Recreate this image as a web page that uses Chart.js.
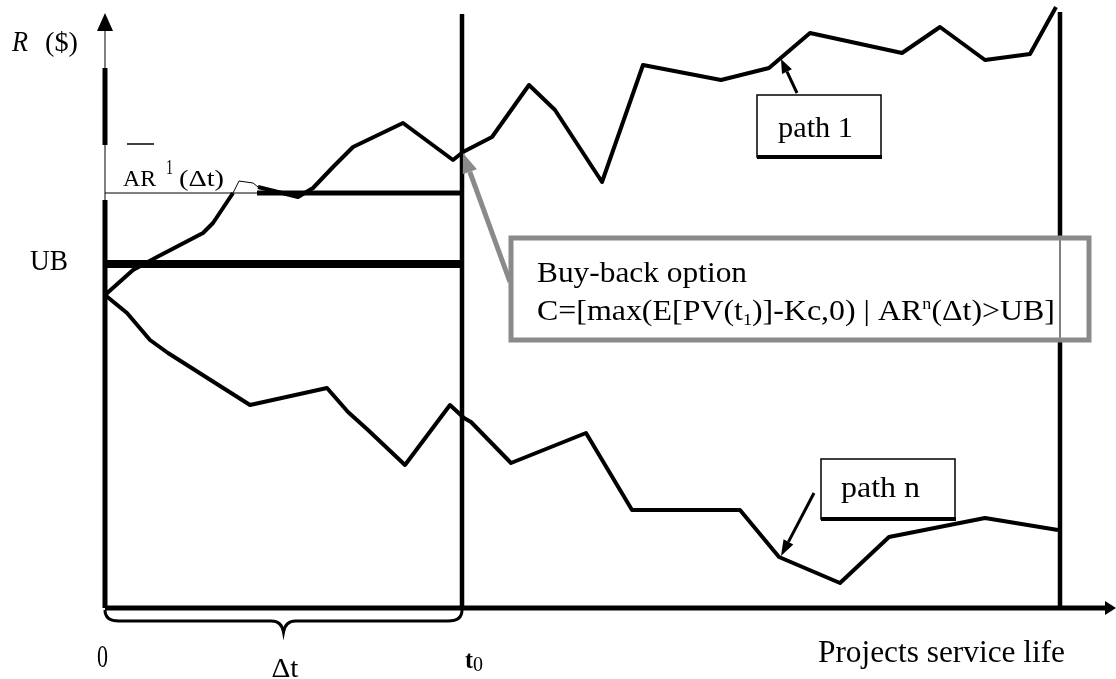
<!DOCTYPE html>
<html lang="en">
<head>
<meta charset="UTF-8" />
<title>Buy-back option</title>
<script src="https://cdn.jsdelivr.net/npm/chart.js"></script>
<style>
  * { margin: 0; padding: 0; box-sizing: border-box; }
  body { background: #ffffff; width: 1116px; height: 679px; overflow: hidden; }
  #wrap { width: 1116px; height: 679px; }
</style>
</head>
<body>
<div id="wrap"><canvas id="diagram" width="1116" height="679"></canvas></div>
<script>
  // diagram units: x = time from 0, y = R ($) above the time axis
  const T0 = 357;
  const T_END = 955;
  const UB = 344;
  const AR1 = 415;
  const AR1_THICK_FROM = 152;

  const path1X = [0, 28, 52, 98, 108, 128, 134, 148, 153, 193, 208, 228, 248, 298, 348, 358, 387, 424, 450, 497, 538, 616, 664, 705, 797, 835, 880, 925, 951];
  const path1Y = [313, 338, 351, 375, 385, 415, 427, 425, 421, 411, 420, 441, 461, 485, 448, 456, 471, 523, 498, 426, 543, 528, 540, 575, 555, 581, 548, 554, 601];

  const pathNX = [0, 22, 45, 63, 145, 222, 243, 263, 300, 345, 359, 366, 406, 481, 527, 635, 674, 735, 784, 880, 953];
  const pathNY = [313, 295, 268, 255, 203, 220, 196, 178, 143, 203, 190, 186, 145, 175, 98, 98, 51, 25, 71, 90, 78];

  // R axis: thick / thin / thick / thin pieces up to the arrow
  const rAxisStops = [0, 408, 463, 540, 580];
  const rAxisWidths = [5, 1, 5, 1];
  const R_TOP = 595;
  const TIME_END = 1011;

  const toPts = (xs, ys) => xs.map((x, i) => ({ x: x, y: ys[i] }));

  const line = (data, width, extra) =>
    Object.assign(
      {
        data: data,
        showLine: true,
        borderColor: "#000",
        borderWidth: width,
        pointRadius: 0,
        tension: 0,
        borderJoinStyle: "round",
      },
      extra || {}
    );

  function fitText(ctx, str, x, y, font, w) {
    ctx.save();
    ctx.font = font;
    const k = w ? w / ctx.measureText(str).width : 1;
    ctx.translate(x, y);
    ctx.scale(k, 1);
    ctx.fillText(str, 0, 0);
    ctx.restore();
  }

  function richText(ctx, pieces, x, y, w) {
    let total = 0;
    pieces.forEach((p) => {
      ctx.font = p[2];
      total += ctx.measureText(p[0]).width;
    });
    const k = w / total;
    ctx.save();
    ctx.translate(x, y);
    ctx.scale(k, 1);
    let cx = 0;
    pieces.forEach((p) => {
      ctx.font = p[2];
      ctx.fillText(p[0], cx, p[1]);
      cx += ctx.measureText(p[0]).width;
    });
    ctx.restore();
  }

  function arrow(ctx, x1, y1, x2, y2, color, lw, hl, hw) {
    const a = Math.atan2(y2 - y1, x2 - x1);
    const bx = x2 - hl * Math.cos(a);
    const by = y2 - hl * Math.sin(a);
    ctx.strokeStyle = color;
    ctx.fillStyle = color;
    ctx.lineWidth = lw;
    ctx.beginPath();
    ctx.moveTo(x1, y1);
    ctx.lineTo(bx, by);
    ctx.stroke();
    ctx.beginPath();
    ctx.moveTo(x2, y2);
    ctx.lineTo(bx + (hw / 2) * Math.sin(a), by - (hw / 2) * Math.cos(a));
    ctx.lineTo(bx - (hw / 2) * Math.sin(a), by + (hw / 2) * Math.cos(a));
    ctx.closePath();
    ctx.fill();
  }

  const notes = {
    id: "notes",
    afterDatasetsDraw(chart) {
      const ctx = chart.ctx;
      const X = (v) => chart.scales.x.getPixelForValue(v);
      const Y = (v) => chart.scales.y.getPixelForValue(v);
      const serif = (s) => s + "px 'Liberation Serif', 'DejaVu Serif', serif";
      ctx.save();
      ctx.fillStyle = "#000";
      ctx.textBaseline = "alphabetic";

      // arrow heads of the two axes
      ctx.beginPath();
      ctx.moveTo(X(0), Y(R_TOP));
      ctx.lineTo(X(0) - 8, Y(R_TOP) + 18);
      ctx.lineTo(X(0) + 8, Y(R_TOP) + 18);
      ctx.closePath();
      ctx.fill();
      ctx.beginPath();
      ctx.moveTo(X(TIME_END), Y(0));
      ctx.lineTo(X(TIME_END) - 11, Y(0) - 7);
      ctx.lineTo(X(TIME_END) - 11, Y(0) + 7);
      ctx.closePath();
      ctx.fill();

      // brace under [0, t0]
      const yb = Y(0) + 2;
      const x0 = X(0), x1 = X(T0), xm = X(T0 / 2);
      ctx.strokeStyle = "#000";
      ctx.lineWidth = 3;
      ctx.beginPath();
      ctx.moveTo(x0, yb);
      ctx.quadraticCurveTo(x0, yb + 11, x0 + 14, yb + 11);
      ctx.lineTo(xm - 12, yb + 11);
      ctx.quadraticCurveTo(xm - 2, yb + 11, xm, yb + 22);
      ctx.quadraticCurveTo(xm + 2, yb + 11, xm + 12, yb + 11);
      ctx.lineTo(x1 - 14, yb + 11);
      ctx.quadraticCurveTo(x1, yb + 11, x1, yb);
      ctx.stroke();

      // axis texts
      fitText(ctx, "R", X(-93), Y(557), "italic " + serif(30), 16);
      fitText(ctx, "($)", X(-60), Y(557), serif(28), 33);
      fitText(ctx, "UB", X(-75), Y(338), serif(30), 38);
      fitText(ctx, "0", X(0) - 8, Y(-59), serif(31), 11);
      fitText(ctx, "\u0394t", xm - 12, Y(-69), serif(28), 27);
      fitText(ctx, "t", X(T0) + 3, Y(-60), "bold " + serif(26), 8);
      fitText(ctx, "0", X(T0) + 11, Y(-63), serif(20), 10);
      fitText(ctx, "Projects service life", X(713), Y(-54), serif(31), 247);

      // AR label with overline
      fitText(ctx, "AR", X(18), Y(422), serif(24), 33);
      fitText(ctx, "1", X(61), Y(434), serif(20), 7);
      fitText(ctx, "(\u0394t)", X(74), Y(422), serif(24), 45);
      ctx.lineWidth = 1.5;
      ctx.beginPath();
      ctx.moveTo(X(22), Y(464));
      ctx.lineTo(X(49), Y(464));
      ctx.stroke();

      // path 1 box and arrow
      arrow(ctx, X(692), Y(515), X(676), Y(549), "#000", 3, 14, 11);
      ctx.fillStyle = "#fff";
      ctx.fillRect(X(652), Y(513), X(776) - X(652), Y(451) - Y(513));
      ctx.strokeStyle = "#000";
      ctx.lineWidth = 1.5;
      ctx.strokeRect(X(652), Y(513), X(776) - X(652), Y(451) - Y(513));
      ctx.fillStyle = "#000";
      ctx.fillRect(X(652), Y(451) - 2, X(776) - X(652) + 1, 4);
      fitText(ctx, "path 1", X(673), Y(471), serif(30), 75);

      // path n box and arrow
      arrow(ctx, X(709), Y(115), X(676), Y(52), "#000", 3, 16, 11);
      ctx.fillStyle = "#fff";
      ctx.fillRect(X(716), Y(149), X(850) - X(716), Y(89) - Y(149));
      ctx.strokeStyle = "#000";
      ctx.lineWidth = 1.5;
      ctx.strokeRect(X(716), Y(149), X(850) - X(716), Y(89) - Y(149));
      ctx.fillStyle = "#000";
      ctx.fillRect(X(716), Y(89) - 2, X(850) - X(716) + 1, 4);
      fitText(ctx, "path n", X(736), Y(111), serif(30), 79);

      // buy-back box with grey pointer to the t0 point of path 1
      arrow(ctx, X(405), Y(326), X(T0 + 1), Y(455), "#8a8a8a", 5, 20, 15);
      const bl = X(406), bt = Y(370), bw = X(984) - X(406), bh = Y(268) - Y(370);
      ctx.fillStyle = "#fff";
      ctx.fillRect(bl, bt, bw, bh);
      ctx.strokeStyle = "#000";
      ctx.lineWidth = 1;
      ctx.beginPath();
      ctx.moveTo(X(T_END), bt);
      ctx.lineTo(X(T_END), bt + bh);
      ctx.stroke();
      ctx.strokeStyle = "#8a8a8a";
      ctx.lineWidth = 5;
      ctx.strokeRect(bl, bt, bw, bh);
      ctx.fillStyle = "#000";
      fitText(ctx, "Buy-back option", X(432), Y(326), serif(30), 210);
      const main = serif(30), small = serif(17);
      richText(
        ctx,
        [
          ["C=[max(E[PV(t", 0, main],
          ["1", 5, small],
          [")]-Kc,0) | AR", 0, main],
          ["n", -11, small],
          ["(\u0394t)>UB]", 0, main],
        ],
        X(432),
        Y(288),
        518
      );
      ctx.restore();
    },
  };

  new Chart(document.getElementById("diagram"), {
    type: "scatter",
    data: {
      datasets: [
        line(toPts(path1X, path1Y), 4, {
          segment: { borderWidth: (c) => (c.p0DataIndex >= 5 && c.p0DataIndex <= 7 ? 1 : 4) },
        }),
        line(toPts(pathNX, pathNY), 4),
        line([{ x: 0, y: UB }, { x: T0, y: UB }], 8, { borderJoinStyle: "miter" }),
        line([{ x: 0, y: AR1 }, { x: AR1_THICK_FROM, y: AR1 }, { x: T0, y: AR1 }], 5, {
          segment: { borderWidth: (c) => (c.p0DataIndex === 0 ? 1 : 5) },
        }),
        line([{ x: T0, y: 0 }, { x: T0, y: 594 }], 4.5),
        line([{ x: T_END, y: 0 }, { x: T_END, y: 596 }], 4.5),
        line(rAxisStops.map((v) => ({ x: 0, y: v })).concat([{ x: 0, y: R_TOP - 10 }]), 5, {
          segment: { borderWidth: (c) => rAxisWidths[c.p0DataIndex] || 1 },
        }),
        line([{ x: 0, y: 0 }, { x: TIME_END - 8, y: 0 }], 5),
      ],
    },
    options: {
      responsive: false,
      animation: false,
      events: [],
      layout: { padding: 0 },
      plugins: { legend: { display: false }, tooltip: { enabled: false } },
      scales: {
        x: { type: "linear", min: -105, max: 1011, display: false },
        y: { type: "linear", min: -71, max: 608, display: false },
      },
    },
    plugins: [notes],
  });
</script>
</body>
</html>
